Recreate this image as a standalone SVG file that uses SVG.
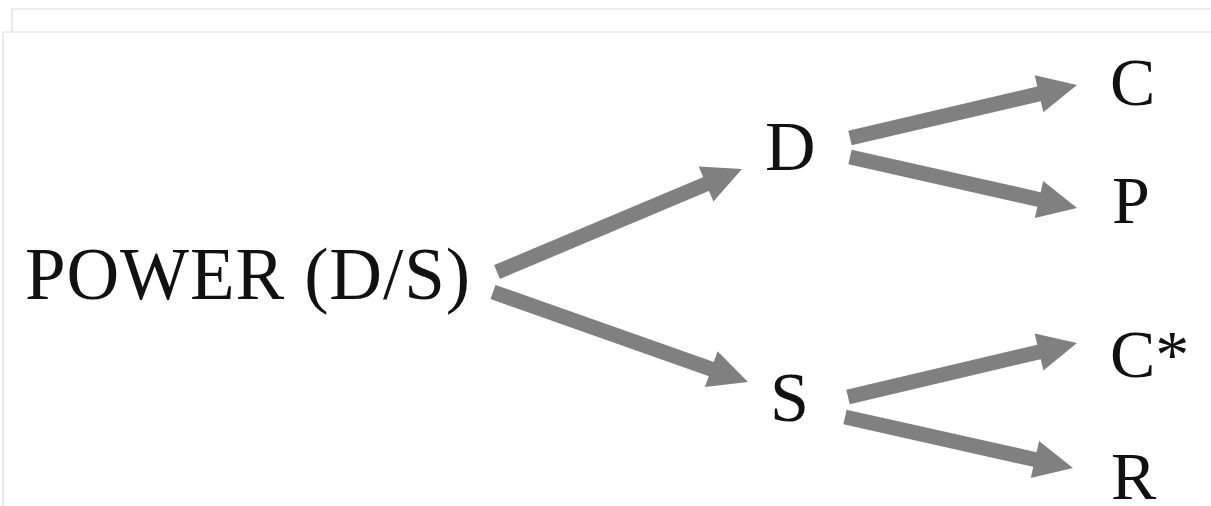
<svg xmlns="http://www.w3.org/2000/svg" width="1211" height="506" viewBox="0 0 1211 506">
<style>
.lbl{font-family:"Liberation Serif","Times New Roman",serif;fill:#111}
.frame{stroke:#dcdcdc;stroke-width:1.2;fill:none}
.arr{stroke:#808080;stroke-width:15;fill:none;marker-end:url(#head)}
</style>
<defs>
<marker id="head" markerUnits="userSpaceOnUse" markerWidth="40" markerHeight="38" refX="0" refY="19" orient="auto" overflow="visible">
<path d="M-1,0 L38,19 L-1,38 z" fill="#808080"/>
</marker>
</defs>
<rect width="1211" height="506" fill="#fff"/>
<g id="frame">
<path class="frame" d="M12,32 V9 H1211"/>
<path class="frame" d="M3,506 V32 H1211"/>
</g>
<g id="connectors">
<line class="arr" x1="497" y1="272" x2="707" y2="183.7"/>
<line class="arr" x1="493" y1="292" x2="712.2" y2="369.4"/>
<line class="arr" x1="850" y1="138" x2="1040" y2="93.6"/>
<line class="arr" x1="850" y1="157" x2="1040" y2="199.7"/>
<line class="arr" x1="848" y1="397" x2="1040" y2="351.7"/>
<line class="arr" x1="845" y1="417" x2="1035.9" y2="459.7"/>
</g>
<g id="power"><text class="lbl" x="25" y="299" font-size="73" textLength="445" lengthAdjust="spacing">POWER (D/S)</text></g>
<g id="d"><text class="lbl" x="765" y="170" font-size="70">D</text></g>
<g id="s"><text class="lbl" x="770" y="421" font-size="70">S</text></g>
<g id="c"><text class="lbl" x="1110" y="105" font-size="68">C</text></g>
<g id="p"><text class="lbl" x="1112" y="223" font-size="68">P</text></g>
<g id="cstar"><text class="lbl" x="1110" y="377" font-size="68">C*</text></g>
<g id="r"><text class="lbl" x="1111" y="499" font-size="68">R</text></g>
</svg>
